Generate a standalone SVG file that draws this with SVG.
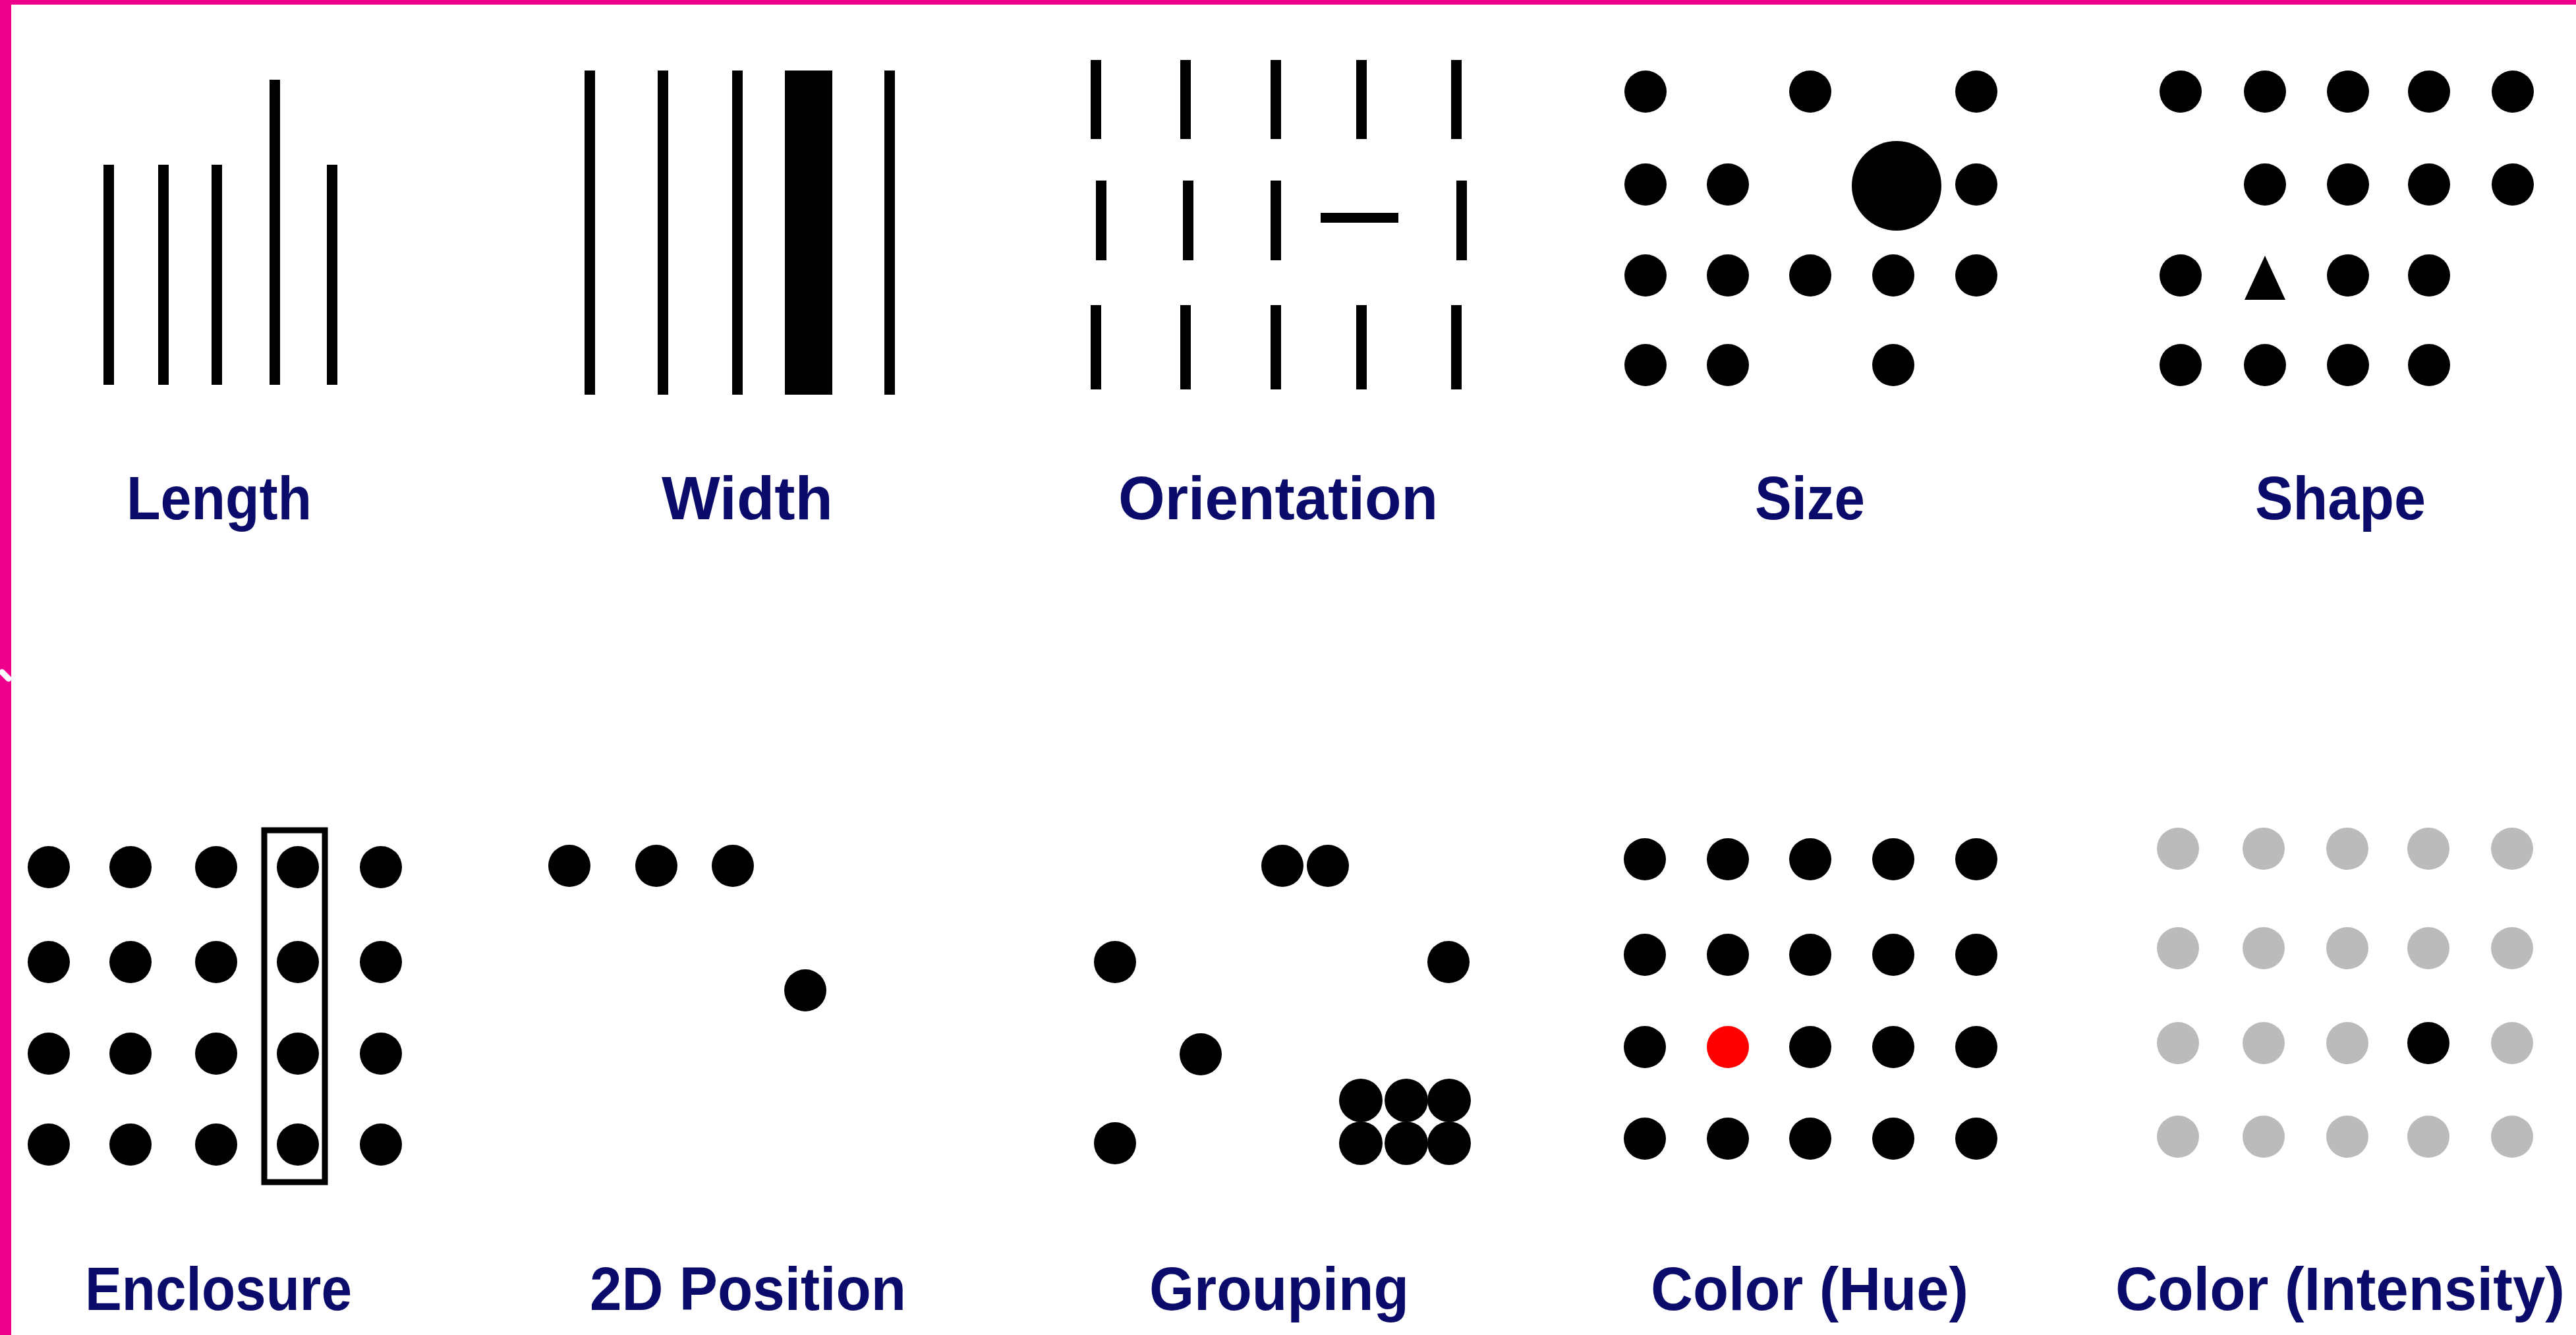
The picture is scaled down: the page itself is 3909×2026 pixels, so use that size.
<svg xmlns="http://www.w3.org/2000/svg" width="3909" height="2026" viewBox="0 0 3909 2026">
<defs>
<style>
.lbl{font-family:"Liberation Sans",Arial,sans-serif;font-weight:bold;font-size:92px;fill:#0b0b6b}
.bar{fill:#000}
.d{fill:#000}
.g{fill:#bbbbbb}
.r{fill:#ff0000}
</style>
<circle id="dot" r="32"/>
</defs>
<rect x="0" y="0" width="3909" height="2026" fill="#fff"/>
<rect x="0" y="0" width="3909" height="7" fill="#ee008c"/>
<rect x="0" y="0" width="17" height="2026" fill="#ee008c"/>
<line x1="3" y1="1020" x2="13" y2="1030" stroke="#fff" stroke-width="9" stroke-linecap="round"/>

<g id="length">
<rect class="bar" x="157" y="250" width="16" height="334"/>
<rect class="bar" x="240" y="250" width="16" height="334"/>
<rect class="bar" x="321" y="250" width="16" height="334"/>
<rect class="bar" x="409" y="121" width="16" height="463"/>
<rect class="bar" x="496" y="250" width="16" height="334"/>
<text class="lbl" x="192" y="788" textLength="281" lengthAdjust="spacingAndGlyphs">Length</text>
</g>

<g id="width">
<rect class="bar" x="887" y="107" width="16" height="492"/>
<rect class="bar" x="998" y="107" width="16" height="492"/>
<rect class="bar" x="1111" y="107" width="16" height="492"/>
<rect class="bar" x="1191" y="107" width="72" height="492"/>
<rect class="bar" x="1342" y="107" width="16" height="492"/>
<text class="lbl" x="1004" y="788" textLength="260" lengthAdjust="spacingAndGlyphs">Width</text>
</g>

<g id="orientation">
<rect class="bar" x="1655" y="91" width="16" height="120"/>
<rect class="bar" x="1791" y="91" width="16" height="120"/>
<rect class="bar" x="1928" y="91" width="16" height="120"/>
<rect class="bar" x="2058" y="91" width="16" height="120"/>
<rect class="bar" x="2202" y="91" width="16" height="120"/>
<rect class="bar" x="1663" y="274" width="16" height="121"/>
<rect class="bar" x="1795" y="274" width="16" height="121"/>
<rect class="bar" x="1928" y="274" width="16" height="121"/>
<rect class="bar" x="2004" y="323" width="118" height="15"/>
<rect class="bar" x="2210" y="274" width="16" height="121"/>
<rect class="bar" x="1655" y="463" width="16" height="128"/>
<rect class="bar" x="1791" y="463" width="16" height="128"/>
<rect class="bar" x="1928" y="463" width="16" height="128"/>
<rect class="bar" x="2058" y="463" width="16" height="128"/>
<rect class="bar" x="2202" y="463" width="16" height="128"/>
<text class="lbl" x="1697" y="788" textLength="485" lengthAdjust="spacingAndGlyphs">Orientation</text>
</g>

<g id="size" class="d">
<use href="#dot" x="2497" y="139"/><use href="#dot" x="2747" y="139"/><use href="#dot" x="2999" y="139"/>
<use href="#dot" x="2497" y="280"/><use href="#dot" x="2622" y="280"/><circle cx="2878" cy="282" r="68"/><use href="#dot" x="2999" y="280"/>
<use href="#dot" x="2497" y="418"/><use href="#dot" x="2622" y="418"/><use href="#dot" x="2747" y="418"/><use href="#dot" x="2873" y="418"/><use href="#dot" x="2999" y="418"/>
<use href="#dot" x="2497" y="554"/><use href="#dot" x="2622" y="554"/><use href="#dot" x="2873" y="554"/>
<text class="lbl" x="2663" y="788" textLength="167" lengthAdjust="spacingAndGlyphs">Size</text>
</g>

<g id="shape" class="d">
<use href="#dot" x="3309" y="139"/><use href="#dot" x="3437" y="139"/><use href="#dot" x="3563" y="139"/><use href="#dot" x="3686" y="139"/><use href="#dot" x="3813" y="139"/>
<use href="#dot" x="3437" y="280"/><use href="#dot" x="3563" y="280"/><use href="#dot" x="3686" y="280"/><use href="#dot" x="3813" y="280"/>
<use href="#dot" x="3309" y="418"/><polygon points="3437,388 3468,455 3406,455"/><use href="#dot" x="3563" y="418"/><use href="#dot" x="3686" y="418"/>
<use href="#dot" x="3309" y="554"/><use href="#dot" x="3437" y="554"/><use href="#dot" x="3563" y="554"/><use href="#dot" x="3686" y="554"/>
<text class="lbl" x="3422" y="788" textLength="259" lengthAdjust="spacingAndGlyphs">Shape</text>
</g>

<g id="enclosure" class="d">
<use href="#dot" x="74" y="1316"/><use href="#dot" x="198" y="1316"/><use href="#dot" x="328" y="1316"/><use href="#dot" x="452" y="1316"/><use href="#dot" x="578" y="1316"/>
<use href="#dot" x="74" y="1460"/><use href="#dot" x="198" y="1460"/><use href="#dot" x="328" y="1460"/><use href="#dot" x="452" y="1460"/><use href="#dot" x="578" y="1460"/>
<use href="#dot" x="74" y="1599"/><use href="#dot" x="198" y="1599"/><use href="#dot" x="328" y="1599"/><use href="#dot" x="452" y="1599"/><use href="#dot" x="578" y="1599"/>
<use href="#dot" x="74" y="1737"/><use href="#dot" x="198" y="1737"/><use href="#dot" x="328" y="1737"/><use href="#dot" x="452" y="1737"/><use href="#dot" x="578" y="1737"/>
<rect x="401" y="1260" width="92" height="534" fill="none" stroke="#000" stroke-width="9"/>
<text class="lbl" x="129" y="1988" textLength="405" lengthAdjust="spacingAndGlyphs">Enclosure</text>
</g>

<g id="position2d" class="d">
<use href="#dot" x="864" y="1314"/><use href="#dot" x="996" y="1314"/><use href="#dot" x="1112" y="1314"/>
<use href="#dot" x="1222" y="1503"/>
<text class="lbl" x="895" y="1988" textLength="480" lengthAdjust="spacingAndGlyphs">2D Position</text>
</g>

<g id="grouping" class="d">
<use href="#dot" x="1946" y="1314"/><use href="#dot" x="2015" y="1314"/>
<use href="#dot" x="1692" y="1460"/><use href="#dot" x="2198" y="1460"/>
<use href="#dot" x="1822" y="1600"/>
<use href="#dot" x="1692" y="1735"/>
<circle cx="2065" cy="1670" r="33"/><circle cx="2134" cy="1670" r="33"/><circle cx="2199" cy="1670" r="33"/>
<circle cx="2065" cy="1735" r="33"/><circle cx="2134" cy="1735" r="33"/><circle cx="2199" cy="1735" r="33"/>
<text class="lbl" x="1744" y="1988" textLength="394" lengthAdjust="spacingAndGlyphs">Grouping</text>
</g>

<g id="color-hue" class="d">
<use href="#dot" x="2496" y="1304"/><use href="#dot" x="2622" y="1304"/><use href="#dot" x="2747" y="1304"/><use href="#dot" x="2873" y="1304"/><use href="#dot" x="2999" y="1304"/>
<use href="#dot" x="2496" y="1449"/><use href="#dot" x="2622" y="1449"/><use href="#dot" x="2747" y="1449"/><use href="#dot" x="2873" y="1449"/><use href="#dot" x="2999" y="1449"/>
<use href="#dot" x="2496" y="1589"/><use class="r" href="#dot" x="2622" y="1589"/><use href="#dot" x="2747" y="1589"/><use href="#dot" x="2873" y="1589"/><use href="#dot" x="2999" y="1589"/>
<use href="#dot" x="2496" y="1728"/><use href="#dot" x="2622" y="1728"/><use href="#dot" x="2747" y="1728"/><use href="#dot" x="2873" y="1728"/><use href="#dot" x="2999" y="1728"/>
<text class="lbl" x="2505" y="1988" textLength="482" lengthAdjust="spacingAndGlyphs">Color (Hue)</text>
</g>

<g id="color-intensity" class="g">
<use href="#dot" x="3305" y="1288"/><use href="#dot" x="3435" y="1288"/><use href="#dot" x="3562" y="1288"/><use href="#dot" x="3685" y="1288"/><use href="#dot" x="3812" y="1288"/>
<use href="#dot" x="3305" y="1439"/><use href="#dot" x="3435" y="1439"/><use href="#dot" x="3562" y="1439"/><use href="#dot" x="3685" y="1439"/><use href="#dot" x="3812" y="1439"/>
<use href="#dot" x="3305" y="1583"/><use href="#dot" x="3435" y="1583"/><use href="#dot" x="3562" y="1583"/><use class="d" href="#dot" x="3685" y="1583"/><use href="#dot" x="3812" y="1583"/>
<use href="#dot" x="3305" y="1725"/><use href="#dot" x="3435" y="1725"/><use href="#dot" x="3562" y="1725"/><use href="#dot" x="3685" y="1725"/><use href="#dot" x="3812" y="1725"/>
<text class="lbl" x="3210" y="1988" textLength="682" lengthAdjust="spacingAndGlyphs">Color (Intensity)</text>
</g>
</svg>
